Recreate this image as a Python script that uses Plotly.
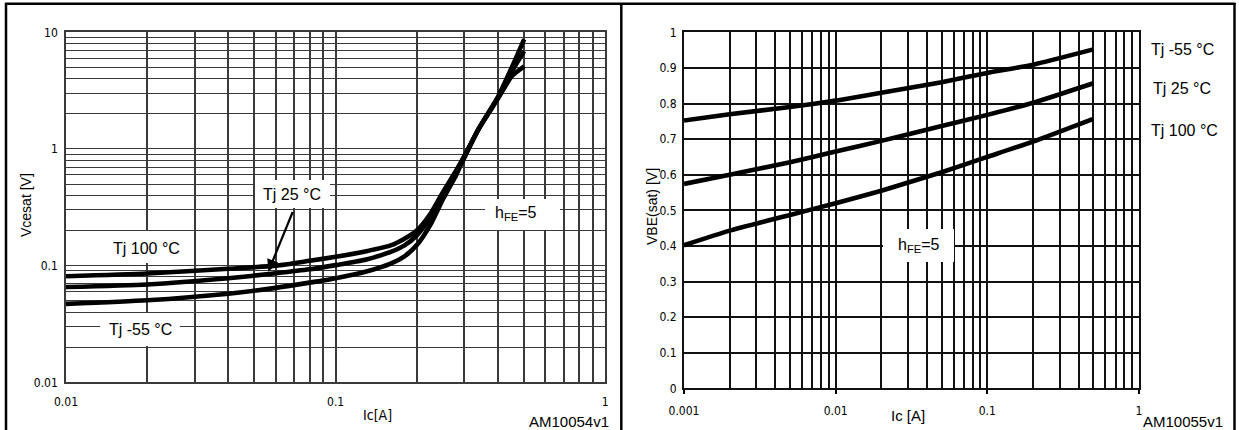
import plotly.graph_objects as go

# ---------------- data ----------------
# Collector-emitter saturation voltage vs collector current (hFE = 5)
ic_vce = [0.01, 0.02, 0.04, 0.06, 0.08, 0.1, 0.13, 0.16, 0.18, 0.2, 0.225, 0.25, 0.28, 0.3, 0.34, 0.4, 0.45, 0.5]
vce_tj100 = [0.081, 0.0855, 0.094, 0.1, 0.11, 0.119, 0.133, 0.149, 0.17, 0.2, 0.28, 0.427, 0.656, 0.87, 1.5, 2.7, 4.2, 5.1]
vce_tj25 = [0.0656, 0.069, 0.078, 0.086, 0.093, 0.101, 0.113, 0.131, 0.149, 0.182, 0.261, 0.414, 0.64, 0.86, 1.5, 2.75, 4.6, 6.9]
vce_tjm55 = [0.047, 0.0505, 0.0575, 0.0645, 0.0715, 0.078, 0.089, 0.104, 0.12, 0.15, 0.226, 0.372, 0.6, 0.84, 1.5, 2.8, 5.0, 8.7]

# Base-emitter saturation voltage vs collector current (hFE = 5)
ic_vbe = [0.001, 0.002, 0.005, 0.01, 0.02, 0.05, 0.1, 0.2, 0.5]
vbe_tjm55 = [0.752, 0.77, 0.79, 0.808, 0.83, 0.86, 0.886, 0.909, 0.952]
vbe_tj25 = [0.574, 0.6, 0.635, 0.665, 0.695, 0.737, 0.768, 0.802, 0.857]
vbe_tj100 = [0.402, 0.443, 0.487, 0.52, 0.555, 0.607, 0.65, 0.693, 0.757]

# axis ticks
vce_x_major = [0.01, 0.1, 1]
vce_x_labels = ["0.01", "0.1", "1"]
vce_y_major = [0.01, 0.1, 1, 10]
vce_y_labels = ["0.01", "0.1", "1", "10"]
vbe_x_major = [0.001, 0.01, 0.1, 1]
vbe_x_labels = ["0.001", "0.01", "0.1", "1"]
vbe_y_major = [0, 0.1, 0.2, 0.3, 0.4, 0.5, 0.6, 0.7, 0.8, 0.9, 1]
vbe_y_labels = ["0", "0.1", "0.2", "0.3", "0.4", "0.5", "0.6", "0.7", "0.8", "0.9", "1"]


def minor_log(decades):
    return [m * d for d in decades for m in range(2, 10)]


W, H = 1239, 430


def fx(x):
    return x / W


def fy(y):
    return 1 - y / H


NARROW = "Liberation Sans Narrow, Arial Narrow, DejaVu Sans Condensed, Liberation Sans, sans-serif"
SANS = "Liberation Sans, Arial, Helvetica, sans-serif"

fig = go.Figure()

curve = dict(color="black", width=4.6)
for ys in (vce_tj100, vce_tj25, vce_tjm55):
    fig.add_trace(go.Scatter(x=ic_vce, y=ys, mode="lines", line=dict(shape="spline", smoothing=0.6, **curve),
                             xaxis="x", yaxis="y", hoverinfo="skip"))
for ys in (vbe_tjm55, vbe_tj25, vbe_tj100):
    fig.add_trace(go.Scatter(x=ic_vbe, y=ys, mode="lines", line=dict(shape="spline", smoothing=0.5, **curve),
                             xaxis="x2", yaxis="y2", hoverinfo="skip"))

tickfont = dict(family=NARROW, size=12, color="black")
left_grid = "#3a3a3a"
right_grid = "#111111"

fig.update_layout(
    width=W, height=H,
    margin=dict(l=0, r=0, t=0, b=0, autoexpand=False),
    paper_bgcolor="white", plot_bgcolor="white",
    showlegend=False,
    xaxis=dict(
        type="log", range=[-2, 0], domain=[fx(66), fx(605.3)], anchor="y", automargin=False,
        tickmode="array", tickvals=vce_x_major, ticktext=vce_x_labels, ticks="",
        showgrid=True, gridcolor=left_grid, gridwidth=1.6,
        minor=dict(tickmode="array", tickvals=minor_log([0.01, 0.1]), showgrid=True,
                   gridcolor=left_grid, gridwidth=1.6, ticks=""),
        showline=True, mirror=True, linecolor=left_grid, linewidth=1.6,
        tickfont=tickfont, ticklabelstandoff=7, zeroline=False,
    ),
    yaxis=dict(
        type="log", range=[-2, 1], domain=[fy(382.3), fy(32.3)], anchor="x", automargin=False,
        tickmode="array", tickvals=vce_y_major, ticktext=vce_y_labels, ticks="",
        showgrid=True, gridcolor=left_grid, gridwidth=1.3,
        minor=dict(tickmode="array", tickvals=minor_log([0.01, 0.1, 1]), showgrid=True,
                   gridcolor=left_grid, gridwidth=1.3, ticks=""),
        showline=True, mirror=True, linecolor=left_grid, linewidth=1.6,
        tickfont=tickfont, ticklabelstandoff=4, zeroline=False,
    ),
    xaxis2=dict(
        type="log", range=[-3, 0], domain=[fx(684), fx(1139)], anchor="y2", automargin=False,
        tickmode="array", tickvals=vbe_x_major, ticktext=vbe_x_labels,
        ticks="outside", ticklen=4, tickcolor="black", tickwidth=1.5,
        showgrid=True, gridcolor=right_grid, gridwidth=2,
        minor=dict(tickmode="array", tickvals=minor_log([0.001, 0.01, 0.1]), showgrid=True,
                   gridcolor=right_grid, gridwidth=2, ticks=""),
        showline=True, mirror=True, linecolor=right_grid, linewidth=2,
        tickfont=tickfont, ticklabelstandoff=6, zeroline=False,
    ),
    yaxis2=dict(
        range=[0, 1], domain=[fy(388.3), fy(32.3)], anchor="x2", automargin=False,
        tickmode="array", tickvals=vbe_y_major, ticktext=vbe_y_labels, ticks="",
        showgrid=True, gridcolor=right_grid, gridwidth=2,
        showline=True, mirror=True, linecolor=right_grid, linewidth=2,
        tickfont=tickfont, ticklabelstandoff=3, zeroline=False,
    ),
)

# white label boxes masking the grid behind the texts
boxes = [
    (108, 231, 185, 263),   # Tj 100 °C (left)
    (100, 313, 180, 346),   # Tj -55 °C (left)
    (255, 180, 330, 208),   # Tj 25 °C (left)
    (485, 199, 560, 230),   # hFE=5 (left)
    (883, 229, 954, 262),   # hFE=5 (right)
]
shapes = []
for x0, y0, x1, y1 in boxes:
    shapes.append(dict(type="rect", xref="paper", yref="paper", layer="above",
                       x0=fx(x0), x1=fx(x1), y0=fy(y1), y1=fy(y0),
                       fillcolor="white", line=dict(width=0)))

# outer frame and panel divider
frame = dict(color="black", width=2.5)
shapes += [
    dict(type="line", xref="paper", yref="paper", x0=fx(5), x1=fx(1235.5), y0=fy(3.8), y1=fy(3.8), line=frame),
    dict(type="line", xref="paper", yref="paper", x0=fx(6), x1=fx(6), y0=fy(3), y1=fy(431), line=frame),
    dict(type="line", xref="paper", yref="paper", x0=fx(621.3), x1=fx(621.3), y0=fy(3), y1=fy(431), line=frame),
    dict(type="line", xref="paper", yref="paper", x0=fx(1234.5), x1=fx(1234.5), y0=fy(3), y1=fy(431), line=frame),
]
fig.update_layout(shapes=shapes)


def label(text, x, y, size=15, family=SANS, xanchor="center", angle=0):
    fig.add_annotation(text=text, x=fx(x), y=fy(y), xref="paper", yref="paper",
                       xanchor=xanchor, yanchor="middle", showarrow=False, textangle=angle,
                       font=dict(family=family, size=size, color="black"))


# left panel texts
label("Vcesat [V]", 26, 205, size=14, angle=-90)
label("Ic[A]", 377, 415, size=14, family=NARROW)
label("AM10054v1", 569, 421, size=15)
label("Tj 100 °C", 146, 248, size=16)
label("Tj -55 °C", 140, 329, size=16)
label("Tj 25 °C", 292, 195, size=16)
label("h<sub>FE</sub>=5", 516, 214, size=16)

# arrow from the Tj 25 °C label to its curve (tail offset in pixels)
fig.add_annotation(x=fx(268.3), y=fy(271.7), xref="paper", yref="paper",
                   ax=293.3 - 268.3, ay=210.5 - 271.7, axref="pixel", ayref="pixel",
                   text="", showarrow=True, arrowhead=2, arrowsize=1.1, arrowwidth=2.2,
                   arrowcolor="black", standoff=0)

# right panel texts
label("VBE(sat) [V]", 652, 207, size=14, angle=-90)
label("Ic [A]", 908, 415, size=15)
label("AM10055v1", 1183, 421, size=15)
label("Tj -55 °C", 1149, 50, size=16, xanchor="left")
label("Tj 25 °C", 1151, 88, size=16, xanchor="left")
label("Tj 100 °C", 1149, 130, size=16, xanchor="left")
label("h<sub>FE</sub>=5", 919, 245, size=16)

fig.write_html("out.html")
